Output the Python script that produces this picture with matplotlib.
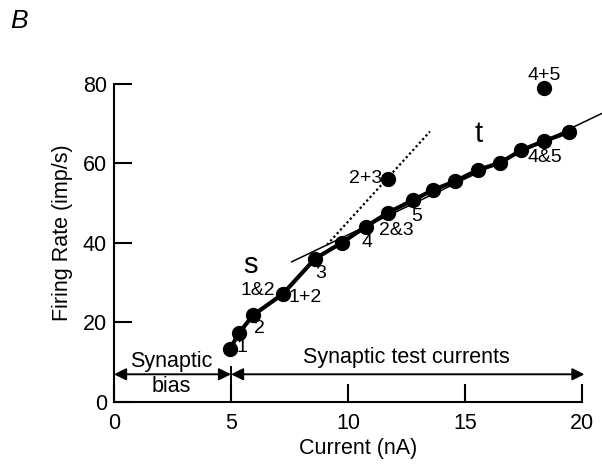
import matplotlib
matplotlib.use('Agg')
import matplotlib.pyplot as plt

plt.rcParams['font.family'] = ['Liberation Sans', 'DejaVu Sans']

# measured firing rates
current = [4.96, 5.35, 5.95, 7.21, 8.59, 9.73, 10.75, 11.69, 12.76, 13.64,
           14.58, 15.54, 16.49, 17.40, 18.38, 19.45]
rate = [13.3, 17.4, 21.8, 27.1, 36.0, 40.0, 44.0, 47.5, 50.7, 53.3,
        55.5, 58.3, 60.1, 63.3, 65.6, 67.9]

# summed inputs
sum_x = [11.69, 18.38]
sum_y = [56.0, 79.0]
sum_labels = ['2+3', '4+5']

# fitted lines
t_x = [7.59, 20.9]
t_y = [35.2, 72.7]
s_x = [9.1, 13.5]
s_y = [39.5, 68.0]

# point labels (text, x, y)
point_labels = [('1', 5.45, 13.6), ('2', 6.21, 18.5), ('1&2', 6.16, 27.9),
                ('1+2', 8.16, 26.2), ('3', 8.83, 32.3), ('4', 10.79, 40.0),
                ('2&3', 12.08, 43.2), ('5', 12.93, 46.7), ('4&5', 18.41, 61.5),
                ('2+3', 10.75, 56.2), ('4+5', 18.38, 82.2)]

fig = plt.figure(figsize=(6.02, 4.70), dpi=100)
ax = fig.add_axes([0.1894, 0.1453, 0.8106, 0.7187])

ax.plot(t_x, t_y, color='black', lw=1.1)
ax.plot(s_x, s_y, color='black', lw=1.6, ls=(0, (1, 1.2)))
ax.plot(current, rate, color='black', lw=3, marker='o', ms=10)
ax.plot(sum_x, sum_y, 'o', color='black', ms=10)

for lab, x, y in point_labels:
    ax.text(x, y, lab, fontsize=14, ha='center', va='center')

ax.text(5.81, 34.4, 's', fontsize=21, ha='center', va='center')
ax.text(15.59, 67.3, 't', fontsize=21, ha='center', va='center')

# bias / test current arrows
arr_y = 6.9
ax.annotate('', xy=(0, arr_y), xytext=(5, arr_y),
            arrowprops=dict(arrowstyle='<|-|>', color='black', lw=1.4,
                            mutation_scale=18, shrinkA=0, shrinkB=0))
ax.annotate('', xy=(5, arr_y), xytext=(20.1, arr_y),
            arrowprops=dict(arrowstyle='<|-|>', color='black', lw=1.4,
                            mutation_scale=18, shrinkA=0, shrinkB=0))
ax.plot([5, 5], [0, 8.7], color='black', lw=1.4)
ax.text(2.46, 10.1, 'Synaptic', fontsize=15.5, ha='center', va='center')
ax.text(2.46, 3.8, 'bias', fontsize=15.5, ha='center', va='center')
ax.text(12.5, 11.2, 'Synaptic test currents', fontsize=15.5, ha='center', va='center')

ax.set_xlim(0, 20.85)
ax.set_ylim(0, 85)
ax.spines['top'].set_visible(False)
ax.spines['right'].set_visible(False)
ax.spines['left'].set_bounds(0, 80)
ax.spines['bottom'].set_bounds(0, 20)
ax.spines['left'].set_linewidth(1.5)
ax.spines['bottom'].set_linewidth(1.5)
ax.set_xticks([0, 5, 10, 15, 20])
ax.set_yticks([0, 20, 40, 60, 80])
ax.tick_params(direction='in', length=13, width=1.5, labelsize=15.5, pad=5)
ax.tick_params(axis='x', pad=8)
ax.set_xlabel('Current (nA)', fontsize=15.5, labelpad=3)
ax.set_ylabel('Firing Rate (imp/s)', fontsize=15.5, labelpad=7)

fig.text(0.017, 0.955, 'B', fontsize=19, style='italic', ha='left', va='center')

fig.savefig('out.png', dpi=100)
